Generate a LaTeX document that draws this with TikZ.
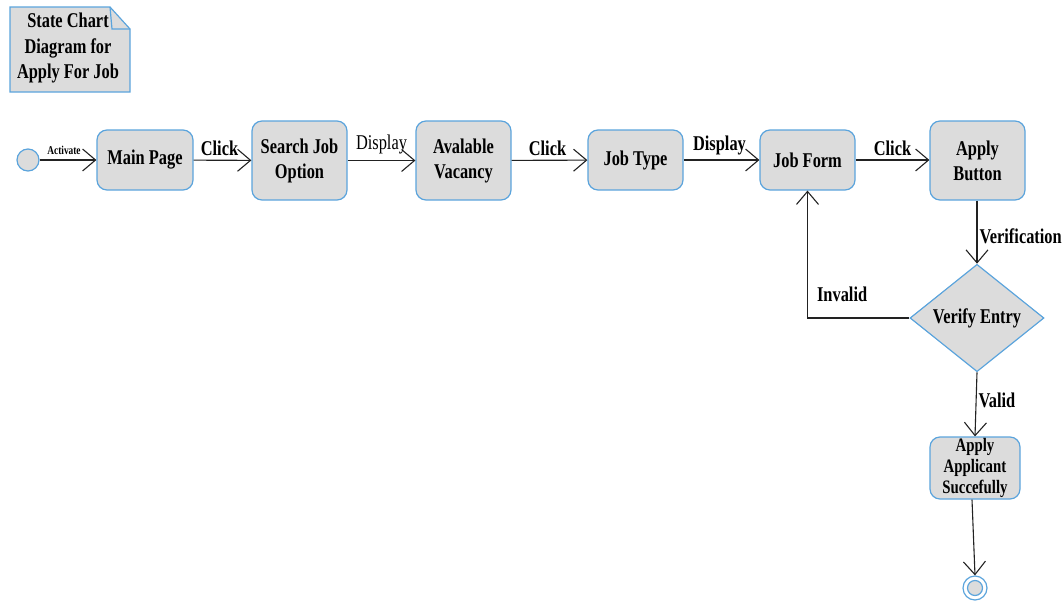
\documentclass[tikz,border=0pt]{standalone}
\usepackage{fontspec}
\setmainfont{Liberation Serif}[FakeStretch=0.78]
\usetikzlibrary{arrows.meta,shapes.geometric}
\definecolor{bl}{HTML}{5BA4DC}
\definecolor{gr}{HTML}{DCDCDC}
\definecolor{ln}{HTML}{222222}
\begin{document}
\begin{tikzpicture}[x=1pt,y=-1pt,
  box/.style={draw=bl, fill=gr, rounded corners=10pt, line width=1.2pt, align=center,
    font=\fontsize{21}{25}\selectfont\bfseries, inner sep=0pt},
  dia/.style={draw=bl, fill=gr, diamond, line width=1.2pt, inner sep=0pt,
    font=\fontsize{21}{25}\selectfont\bfseries},
  edge/.style={draw=ln, line width=1.1pt, -{Straight Barb[length=13pt,width=22pt,line width=1.1pt]}},
  lbl/.style={font=\fontsize{21}{25}\selectfont\bfseries, inner sep=1pt},
]
\useasboundingbox (0,0) rectangle (1063,605);
% note
\draw[draw=bl, fill=gr, line width=1.2pt] (10,7) -- (110,7) -- (130,29) -- (130,92) -- (10,92) -- cycle;
\draw[draw=bl, line width=1.2pt] (110,7) -- (112,29) -- (130,29);
\node[align=center, font=\fontsize{21}{25.5}\selectfont\bfseries] (note) at (68,48) {State Chart\\Diagram for\\Apply For Job};
% states
\node[circle, draw=bl, fill=gr, line width=1.2pt, minimum size=22pt, inner sep=0pt] (init) at (28,160) {};
\node[box, minimum width=96pt, minimum height=60pt] (main) at (145,160) {Main Page};
\node[box, minimum width=95pt, minimum height=79pt] (search) at (299.5,160.5) {Search Job\\Option};
\node[box, minimum width=95pt, minimum height=79pt] (vac) at (463.5,160.5) {Avalable\\Vacancy};
\node[box, minimum width=95pt, minimum height=60pt] (type) at (635.5,160) {Job Type};
\node[box, minimum width=95pt, minimum height=60pt] (form) at (807.5,160) {Job Form};
\node[box, minimum width=95pt, minimum height=79pt] (apply) at (977.5,160.5) {Apply\\Button};
\node[dia, minimum width=134pt, minimum height=84pt] (verify) at (977,318) {Verify Entry};
\node[box, minimum width=90pt, minimum height=62pt, font=\fontsize{19}{21}\selectfont\bfseries] (succ) at (975,468) {Apply\\Applicant\\Succefully};
\node[circle, draw=bl, fill=white, line width=1.2pt, minimum size=24pt, inner sep=0pt] (final) at (975,588) {};
\node[circle, draw=bl, fill=gr, line width=1.2pt, minimum size=15pt, inner sep=0pt] (finalin) at (975,588) {};
% edges
\draw[edge] (init) -- (main) node[lbl, midway, above, xshift=-4pt, yshift=4pt, font=\fontsize{12}{14}\selectfont\bfseries] {Activate};
\draw[edge] (main) -- (search) node[lbl, midway, above, xshift=-3pt, yshift=3pt] {Click};
\draw[edge] (search) -- (vac) node[lbl, midway, above, yshift=5pt, font=\fontsize{21}{25}\selectfont] {Display};
\draw[edge] (vac) -- (type) node[lbl, midway, above, xshift=-2pt, yshift=3pt] {Click};
\draw[edge] (type) -- (form) node[lbl, midway, above, xshift=-2pt, yshift=3pt] {Display};
\draw[edge] (form) -- (apply.west |- form) node[lbl, midway, above, yshift=3pt] {Click};
\draw[edge] (apply.south -| verify) -- (verify.north) node[lbl, midway, right, xshift=1pt, yshift=-4pt] {Verification};
\draw[edge] (verify.west) -| (form.south) node[lbl, pos=0.33, above=15pt] {Invalid};
\draw[edge] (verify.south) -- (succ.north) node[lbl, midway, right, xshift=1pt, yshift=4pt] {Valid};
\draw[edge] ([xshift=-3pt]succ.south) -- (final.north);
\end{tikzpicture}
\end{document}
